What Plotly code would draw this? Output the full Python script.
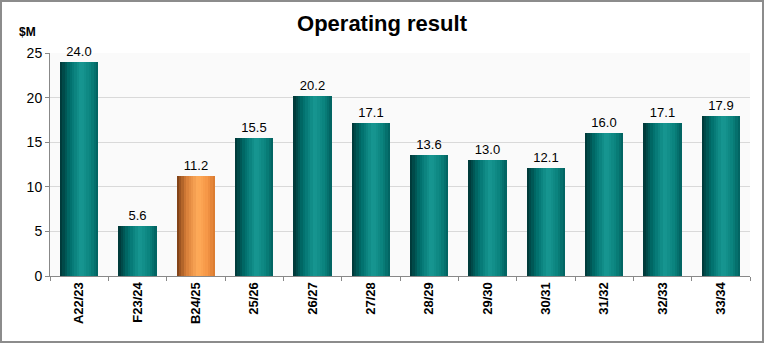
import plotly.graph_objects as go

categories = ["A22/23", "F23/24", "B24/25", "25/26", "26/27", "27/28",
              "28/29", "29/30", "30/31", "31/32", "32/33", "33/34"]
values = [24.0, 5.6, 11.2, 15.5, 20.2, 17.1, 13.6, 13.0, 12.1, 16.0, 17.1, 17.9]
highlight = "B24/25"
y_ticks = [0, 5, 10, 15, 20, 25]

BAR_W = 0.66
N = 16

def lerp(c1, c2, t):
    return tuple(int(round(a + (b - a) * t)) for a, b in zip(c1, c2))

def profile(stops, t):
    for (t0, c0), (t1, c1) in zip(stops, stops[1:]):
        if t <= t1:
            return lerp(c0, c1, (t - t0) / (t1 - t0) if t1 > t0 else 0)
    return stops[-1][1]

teal_stops = [(0.0, (0, 52, 52)), (0.25, (0, 110, 107)), (0.55, (24, 152, 147)),
              (0.8, (10, 130, 125)), (1.0, (0, 96, 94))]
orange_stops = [(0.0, (120, 60, 20)), (0.25, (215, 125, 55)), (0.55, (255, 172, 90)),
                (0.8, (245, 150, 70)), (1.0, (215, 120, 45))]

def rgb(c):
    return "rgb(%d,%d,%d)" % c

fig = go.Figure()
sw = BAR_W / N
for i in range(N):
    t = (i + 0.5) / N
    cols = [rgb(profile(orange_stops if c == highlight else teal_stops, t)) for c in categories]
    w = sw * 1.6 if i < N - 1 else sw
    fig.add_trace(go.Bar(
        x=categories, y=values, width=w, offset=-BAR_W / 2 + i * sw,
        marker=dict(color=cols, line=dict(width=0)),
        showlegend=False, hoverinfo="skip"))

# labels
fig.add_trace(go.Bar(
    x=categories, y=values, width=BAR_W,
    marker=dict(color="rgba(0,0,0,0)", line=dict(width=0)),
    text=["%.1f" % v for v in values], textposition="outside",
    textfont=dict(family="Arial, Liberation Sans", size=13, color="black"),
    cliponaxis=False, showlegend=False))

L, R, T, B = 50, 14, 53, 67
PW, PH = 764 - L - R, 343 - T - B

fig.update_layout(
    width=764, height=343, barmode="overlay", bargap=0,
    margin=dict(l=L, r=R, t=T, b=B),
    paper_bgcolor="white", plot_bgcolor="#fafafa",
    font=dict(family="Arial, Liberation Sans", color="black"),
    title=dict(text="<b>Operating result</b>", x=0.5, xanchor="center",
               y=1 - 23 / 343, yanchor="middle",
               font=dict(size=22, family="Arial, Liberation Sans")),
    xaxis=dict(type="category", categoryorder="array", categoryarray=categories,
               tickangle=-90, tickfont=dict(size=13, family="Liberation Sans"),
               tickprefix="<b>", ticksuffix="</b>",
               ticks="outside", tickson="boundaries", ticklen=4, tickcolor="#888",
               showline=True, linecolor="#888", linewidth=1, showgrid=False,
               range=[-0.5, len(categories) - 0.5]),
    yaxis=dict(range=[0, 25], tickvals=y_ticks, tickfont=dict(size=14),
               ticks="outside", ticklen=4, tickcolor="#888",
               showline=True, linecolor="#888", linewidth=1,
               showgrid=True, gridcolor="#d9d9d9", gridwidth=1, zeroline=False),
    annotations=[dict(text="<b>$M</b>", xref="paper", yref="paper",
                      x=-33 / PW, y=1 + 21 / PH, showarrow=False,
                      font=dict(size=12), xanchor="left", yanchor="middle")],
    shapes=[dict(type="rect", xref="paper", yref="paper",
                 x0=-(L - 1) / PW, x1=1 + (R - 1) / PW,
                 y0=-(B - 1) / PH, y1=1 + (T - 1) / PH,
                 line=dict(color="#8c8c8c", width=2), layer="above")],
)
fig.write_html("out.html")
